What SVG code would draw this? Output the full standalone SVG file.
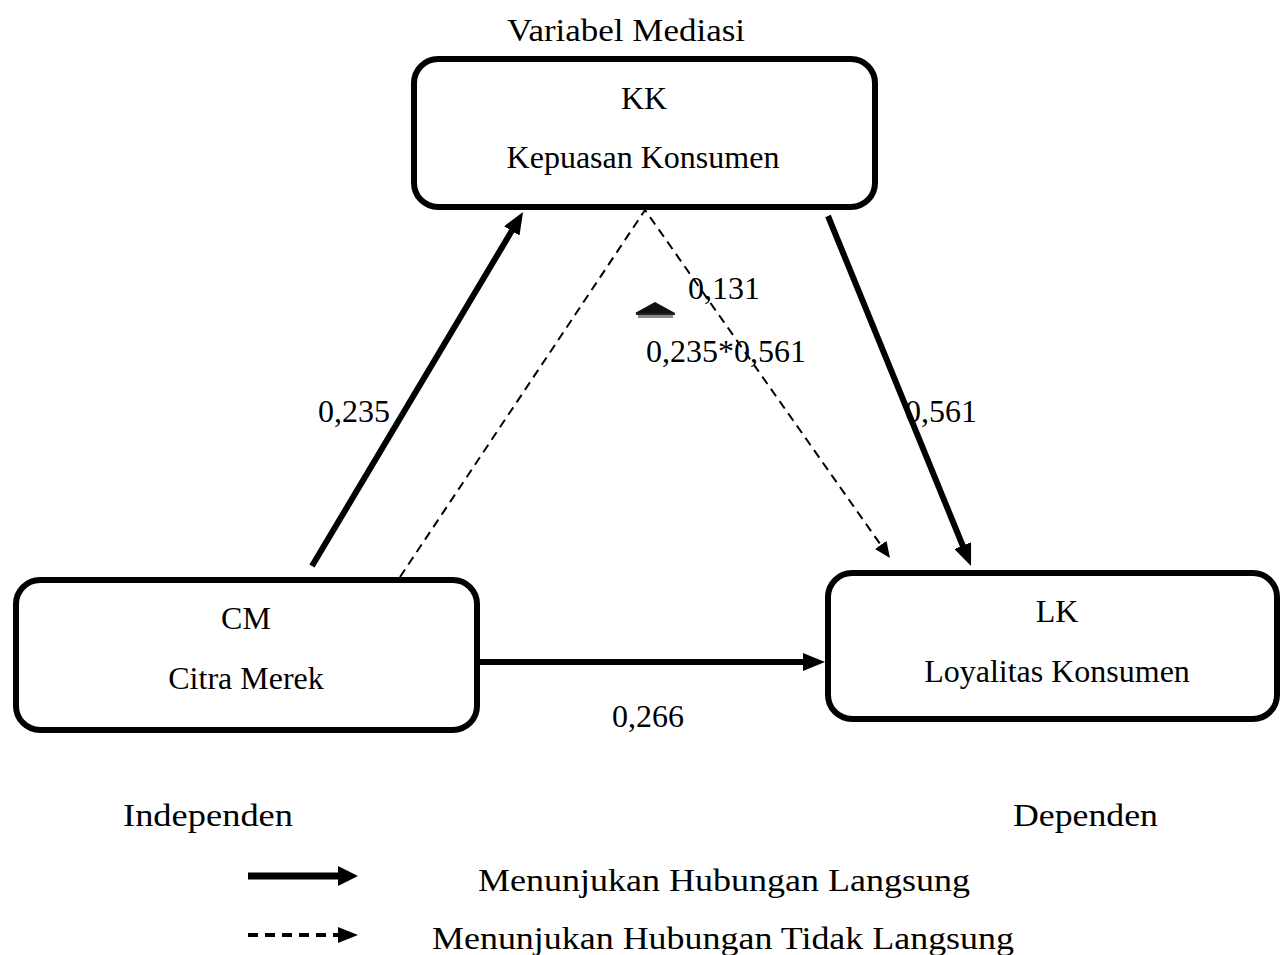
<svg xmlns="http://www.w3.org/2000/svg" width="1280" height="955" viewBox="0 0 1280 955">
<style>
.box{fill:#fff;stroke:#000;stroke-width:6}
.t{font-family:"Liberation Serif","Times New Roman",serif;font-size:32px;fill:#000}
.m{text-anchor:middle}
.solid{stroke:#000;stroke-width:6;fill:none}
.dash{stroke:#000;stroke-width:2;fill:none;stroke-dasharray:9 6}
</style>
<defs>
<marker id="ah" markerUnits="userSpaceOnUse" markerWidth="22" markerHeight="18" refX="10" refY="9" orient="auto">
<path d="M0,0 L22,9 L0,18 z" fill="#000"/>
</marker>
<marker id="ahd" markerUnits="userSpaceOnUse" markerWidth="16" markerHeight="14" refX="6" refY="7" orient="auto">
<path d="M0,0 L16,7 L0,14 z" fill="#000"/>
</marker>
<marker id="ahl" markerUnits="userSpaceOnUse" markerWidth="20" markerHeight="20" refX="8" refY="10" orient="auto">
<path d="M0,0 L20,10 L0,20 z" fill="#000"/>
</marker>
<marker id="ahld" markerUnits="userSpaceOnUse" markerWidth="20" markerHeight="16" refX="10" refY="8" orient="auto">
<path d="M0,0 L20,8 L0,16 z" fill="#000"/>
</marker>
</defs>
<rect width="1280" height="955" fill="#fff"/>

<text class="t m" x="626" y="41" textLength="238" lengthAdjust="spacingAndGlyphs">Variabel Mediasi</text>

<g id="node-kk">
<rect class="box" x="414" y="59" width="461" height="148" rx="24"/>
<text class="t m" x="644" y="109">KK</text>
<text class="t m" x="643" y="168">Kepuasan Konsumen</text>
</g>

<g id="node-cm">
<rect class="box" x="16" y="580" width="461" height="150" rx="24"/>
<text class="t m" x="246" y="629">CM</text>
<text class="t m" x="246" y="689">Citra Merek</text>
</g>

<g id="node-lk">
<rect class="box" x="828" y="573" width="449" height="146" rx="24"/>
<text class="t m" x="1057" y="622">LK</text>
<text class="t m" x="1057" y="682">Loyalitas Konsumen</text>
</g>

<g id="connectors">
<line class="solid" x1="312" y1="566" x2="516.9" y2="222.3" marker-end="url(#ah)"/>
<line class="solid" x1="828" y1="216" x2="966.5" y2="554.9" marker-end="url(#ah)"/>
<line class="solid" x1="480" y1="662" x2="813" y2="662" marker-end="url(#ah)"/>
<polyline class="dash" points="400,577 645,210 884.2,549.8" marker-end="url(#ahd)"/>
</g>

<g id="labels">
<text class="t" x="688" y="299">0,131</text>
<g id="delta-symbol">
<polygon points="635,313 655,302 675,313" fill="#111"/>
<rect x="636" y="313" width="39" height="2" fill="#222"/>
<rect x="638" y="315" width="35" height="3" fill="#888"/>
</g>
<text class="t" x="646" y="362">0,235*0,561</text>
<text class="t" x="318" y="422">0,235</text>
<text class="t" x="905" y="422">0,561</text>
<text class="t" x="612" y="727">0,266</text>
<text class="t m" x="208" y="826" textLength="170" lengthAdjust="spacingAndGlyphs">Independen</text>
<text class="t m" x="1085.5" y="826" textLength="145" lengthAdjust="spacingAndGlyphs">Dependen</text>
</g>

<g id="legend">
<line x1="248" y1="876" x2="346" y2="876" stroke="#000" stroke-width="7" marker-end="url(#ahl)"/>
<line x1="248" y1="935" x2="348" y2="935" stroke="#000" stroke-width="4" stroke-dasharray="10 7" marker-end="url(#ahld)"/>
<text class="t m" x="724" y="891" textLength="492" lengthAdjust="spacingAndGlyphs">Menunjukan Hubungan Langsung</text>
<text class="t m" x="723" y="949" textLength="582" lengthAdjust="spacingAndGlyphs">Menunjukan Hubungan Tidak Langsung</text>
</g>
</svg>
